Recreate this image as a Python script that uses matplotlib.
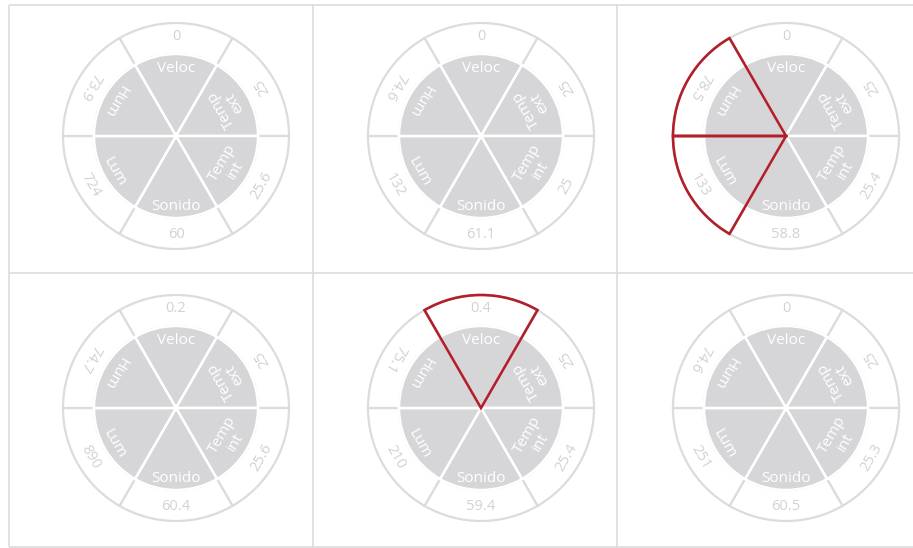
import math
import matplotlib
matplotlib.use("Agg")
import matplotlib.pyplot as plt
from matplotlib.patches import Wedge

plt.rcParams['font.family'] = ['Open Sans', 'DejaVu Sans']

# Sector names, in the order they are drawn around each dial
sectors = ["Veloc", "Temp\next", "Temp\nint", "Sonido", "Lum", "Hum"]

# Readings for each of the six dials (same order as sectors)
veloc    = [0, 0, 0, 0.2, 0.4, 0]
temp_ext = [25, 25, 25, 25, 25, 25]
temp_int = [25.6, 25, 25.4, 25.6, 25.4, 25.3]
sonido   = [60, 61.1, 58.8, 60.4, 59.4, 60.5]
lum      = [724, 132, 133, 890, 210, 251]
hum      = [73.9, 74.6, 78.5, 74.7, 75.1, 74.6]

# Sectors outlined in red on each dial
highlighted = [[], [], ["Hum", "Lum"], [], ["Veloc"], []]

# --- geometry / style ---
W, H = 913, 548
sector_angle = [90, 30, -30, -90, -150, 150]      # centre angle of each sector
text_rot = [0, 120, 60, 0, -60, -120]             # text orientation per sector
label_r = [67, 60, 61, 71, 71, 71]
value_r = 99
R_OUT, R_IN = 113, 82
col_x = [176, 481, 786]
row_y = [136, 408]

GRAY = "#d6d6d8"
RING = "#dcdcdc"
VAL_COL = "#d2d2d2"
RED = "#b11f2a"
FRAME = "#dcdcdc"

fig = plt.figure(figsize=(W / 100, H / 100), dpi=100)
ax = fig.add_axes([0, 0, 1, 1])
ax.set_xlim(0, W)
ax.set_ylim(0, H)
ax.set_aspect("equal")
ax.axis("off")


def Y(y):
    return H - y


# panel frame and grid
frame_kw = dict(color=FRAME, lw=1.2, solid_capstyle="butt")
ax.plot([9, 913], [Y(5), Y(5)], **frame_kw)
ax.plot([9, 913], [Y(547), Y(547)], **frame_kw)
ax.plot([9, 9], [Y(5), Y(547)], **frame_kw)
ax.plot([9, 913], [Y(273), Y(273)], **frame_kw)
for xv in (313, 617):
    ax.plot([xv, xv], [Y(5), Y(547)], **frame_kw)

series = [veloc, temp_ext, temp_int, sonido, lum, hum]
short_names = [s.replace("\n", " ") for s in sectors]

for p in range(6):
    cx = col_x[p % 3]
    cy = Y(row_y[p // 3])
    vals = [s[p] for s in series]

    for k in range(len(sectors)):
        a = sector_angle[k]
        # outer ring sector
        ax.add_patch(Wedge((cx, cy), R_OUT, a - 30, a + 30, width=R_OUT - R_IN,
                           facecolor="white", edgecolor=RING, lw=1.6, zorder=2))
        # inner disc sector
        ax.add_patch(Wedge((cx, cy), R_IN, a - 30, a + 30,
                           facecolor=GRAY, edgecolor="white", lw=1.8, zorder=3))

    for k, name in enumerate(sectors):
        a = math.radians(sector_angle[k])
        lx = cx + label_r[k] * math.cos(a)
        ly = cy + label_r[k] * math.sin(a)
        ax.text(lx, ly, name, color="white", fontsize=11, ha="center", va="center",
                rotation=text_rot[k], rotation_mode="anchor", linespacing=1.0, zorder=4)
        vx = cx + value_r * math.cos(a)
        vy = cy + value_r * math.sin(a)
        ax.text(vx, vy, f"{vals[k]:g}", color=VAL_COL, fontsize=10.5, ha="center", va="center",
                rotation=text_rot[k], rotation_mode="anchor", zorder=4)

    for name in highlighted[p]:
        a = sector_angle[short_names.index(name)]
        ax.add_patch(Wedge((cx, cy), R_OUT, a - 30, a + 30, fill=False,
                           edgecolor=RED, lw=1.9, joinstyle="miter", zorder=5))

fig.savefig("out.png", dpi=100)
